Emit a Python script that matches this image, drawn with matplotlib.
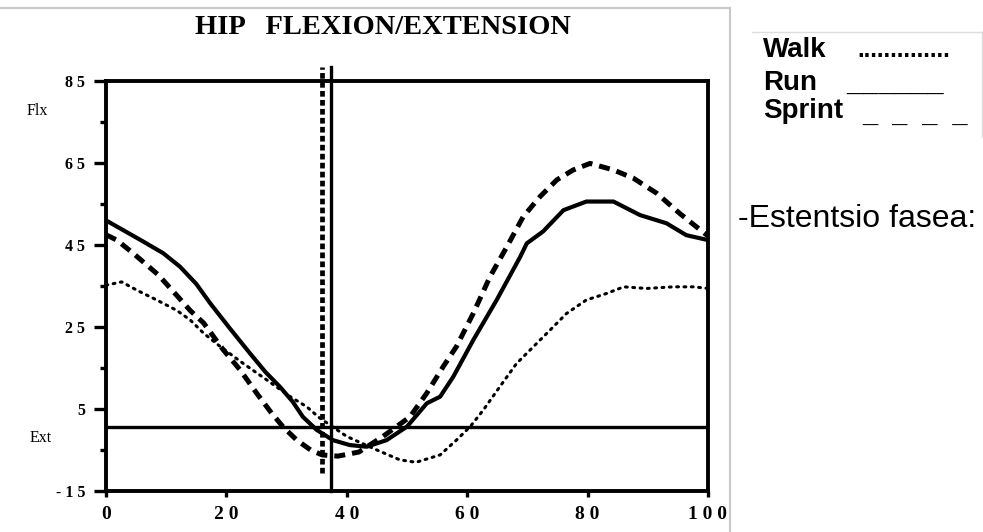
import matplotlib
matplotlib.use("Agg")
from matplotlib import pyplot as plt
from matplotlib.lines import Line2D

# % of gait cycle / hip angle (deg)
run_x = [0, 3, 6, 9.5, 12.3, 15, 17.3, 20.5, 23.9, 26.5, 28.9, 31, 32.7, 35, 37.7, 40.5,
         43.3, 46.6, 50, 53.3, 55.5, 57.7, 61, 64.9, 68.8, 69.9, 72.6, 76, 79.8, 84.3,
         88.7, 93.1, 96.4, 100]
run_y = [51, 48.5, 46, 43, 39.7, 35.5, 30.8, 24.8, 18.6, 14, 10.4, 6.8, 3.1, -0.1, -2.6, -3.8,
         -4.2, -2.6, 0.7, 6.4, 8, 12.9, 21.8, 31.6, 42.1, 45.4, 48.3, 53.5, 55.6, 55.6,
         52.3, 50.3, 47.4, 46.2]

sprint_x = [0, 1.8, 4.5, 8.7, 11.7, 14, 16.2, 19.5, 22.3, 25, 27.5, 29.5, 31.7, 34, 35.9,
            38.5, 42, 46, 50.5, 53.3, 56, 58.2, 61, 63.8, 66.6, 69.3, 72.1, 74.9, 77.6,
            80.4, 84.3, 87.6, 91.5, 95.3, 98.7, 100]
sprint_y = [47.5, 46.2, 43, 37.7, 32.8, 29, 26, 19.4, 14.5, 8.9, 4, 0.5, -2.6, -5, -6.2,
            -6.5, -5.5, -1.7, 3.1, 8.9, 15.3, 20.2, 28.3, 37.3, 44.6, 51.9, 56.8, 60.9, 63.3,
            64.9, 63.3, 61.3, 57.6, 52.7, 48.7, 47.2]

walk_x = [0, 2.6, 5.1, 8.4, 11.7, 14, 16.2, 19, 22.8, 26.7, 30.6, 33.3, 35.5, 40, 45, 48.8,
          51.5, 55.5, 58.2, 60.5, 62.7, 65.4, 68.2, 71, 73.8, 76.5, 79.8, 83.2, 86, 89.8,
          94.3, 97.6, 100]
walk_y = [35.2, 36, 34, 31.6, 29.1, 26.7, 23.5, 20.2, 16.1, 12.1, 8, 5.6, 2.8, -1.7, -5, -7.4,
          -8, -6.2, -2.6, 0.7, 4.8, 10.4, 16.1, 20.2, 24.3, 28.3, 31.6, 33.2, 34.8, 34.4,
          34.8, 34.8, 34.4]

xticks = [0, 20, 40, 60, 80, 100]
xtick_labels = ["0", "2 0", "4 0", "6 0", "8 0", "1 0 0"]
yticks = [-15, 5, 25, 45, 65, 85]
ytick_labels = ["- 1 5", "5", "2 5", "4 5", "6 5", "8 5"]
yminor = [-5, 15, 35, 55, 75]

toe_off_walk = 35.8
toe_off_run = 37.3
zero_line = 0.7

legend_names = ["Walk", "Run", "Sprint"]
legend_marks = ["..............", "______", "_  _  _  _"]


def main():
    W, H = 983, 532
    fig = plt.figure(figsize=(W / 100, H / 100), dpi=100)
    serif = "Liberation Serif"

    ax = fig.add_axes([106 / W, 1 - 491 / H, 602 / W, 410 / H])
    ax.set_xlim(0, 100)
    ax.set_ylim(-15, 85)

    ax.plot(walk_x, walk_y, color="black", lw=2.2, linestyle=(0, (0.6, 1.8)),
            dash_capstyle="round")
    ax.plot(run_x, run_y, color="black", lw=3.0)
    ax.plot(sprint_x, sprint_y, color="black", lw=3.6, linestyle=(0, (2.2, 1.4)))

    ax.axhline(zero_line, color="black", lw=2.4)
    ax.plot([toe_off_run, toe_off_run], [-15, 88.5], color="black", lw=2.4, clip_on=False)
    ax.plot([toe_off_walk, toe_off_walk], [-10.5, 88.5], color="black", lw=3.4,
            linestyle=(0, (1.2, 0.7)), clip_on=False)

    for s in ax.spines.values():
        s.set_linewidth(2.8)

    ax.set_xticks(xticks)
    ax.set_xticklabels(xtick_labels, fontfamily=serif, fontweight="bold", fontsize=14)
    ax.set_yticks(yticks)
    ax.set_yticklabels(ytick_labels, fontfamily=serif, fontweight="bold", fontsize=11.5)
    ax.set_yticks(yminor, minor=True)
    ax.tick_params(axis="x", direction="out", length=4, width=2.4, pad=7)
    ax.tick_params(axis="y", which="major", direction="out", length=9, width=2.4, pad=6)
    ax.tick_params(axis="y", which="minor", direction="out", length=4, width=2.4)

    fig.text(383 / W, 1 - 27 / H, "HIP   FLEXION/EXTENSION", ha="center", va="center",
             fontfamily=serif, fontweight="bold", fontsize=20.5)
    fig.text(27 / W, 1 - 111 / H, "Flx", ha="left", va="center", fontfamily=serif,
             fontsize=11.5)
    fig.text(30 / W, 1 - 438 / H, "Ext", ha="left", va="center", fontfamily=serif,
             fontsize=11.5)

    # legend panel, as pasted beside the figure
    sans = "Liberation Sans"
    for name, yp in zip(legend_names, [57, 90, 118]):
        fig.text(763 / W, 1 - yp / H, name, ha="left", va="baseline",
                 fontfamily=sans, fontweight="bold", fontsize=20)
    fig.text(857 / W, 1 - 57 / H, legend_marks[0], ha="left", va="baseline",
             fontfamily=sans, fontweight="bold", fontsize=17)
    fig.text(846 / W, 1 - 92 / H, legend_marks[1], ha="left", va="baseline",
             fontfamily=sans, fontweight="bold", fontsize=21)
    fig.text(862 / W, 1 - 122 / H, legend_marks[2], ha="left", va="baseline",
             fontfamily=sans, fontweight="bold", fontsize=19.5)

    fig.text(738 / W, 1 - 219 / H, "-Estentsio fasea:", ha="left", va="center",
             fontfamily=sans, fontsize=23)

    grey = "#c8c8c8"
    fig.add_artist(Line2D([0, 730 / W], [1 - 8 / H] * 2, color=grey, lw=1.5))
    fig.add_artist(Line2D([730 / W] * 2, [0, 1 - 8 / H], color=grey, lw=1.5))
    fig.add_artist(Line2D([752 / W, 982 / W], [1 - 32 / H] * 2, color="#dddddd", lw=1))
    fig.add_artist(Line2D([982 / W] * 2, [1 - 32 / H, 1 - 137 / H], color="#dddddd", lw=1))

    fig.savefig("out.png", dpi=100)


if __name__ == '__main__':
    main()
